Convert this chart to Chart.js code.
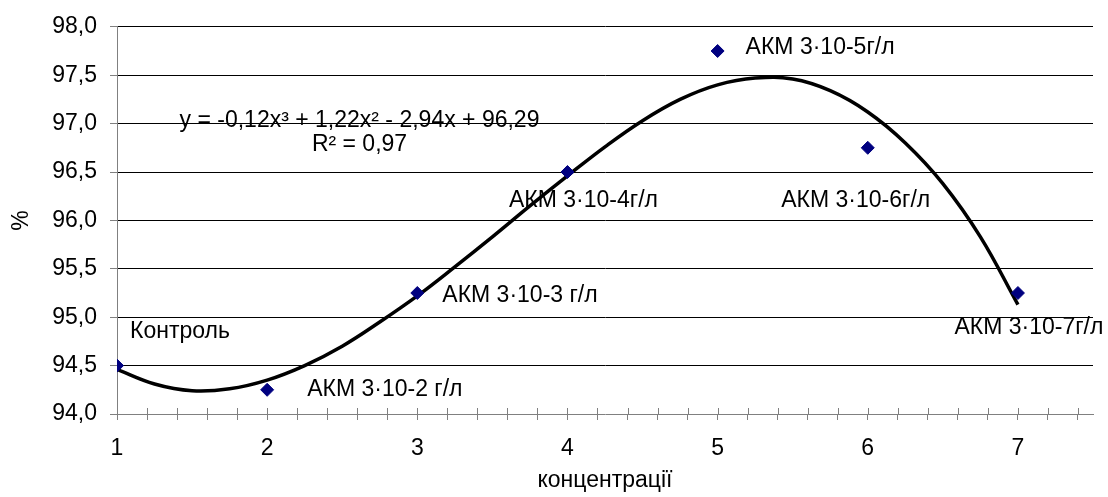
<!DOCTYPE html>
<html>
<head>
<meta charset="utf-8">
<script src="https://cdn.jsdelivr.net/npm/chart.js@4.4.0/dist/chart.umd.min.js"></script>
<style>
  html, body { margin: 0; padding: 0; background: #fff; }
  #wrap { width: 1108px; height: 497px; }
</style>
</head>
<body>
<div id="wrap"><canvas id="grafico"></canvas></div>
<script>
// дані
const kontsentratsii = [1, 2, 3, 4, 5, 6, 7];
const vidsotky = [94.5, 94.25, 95.25, 96.5, 97.75, 96.75, 95.25];
const pidpysy = ['Контроль', 'АКМ 3·10-2 г/л', 'АКМ 3·10-3 г/л', 'АКМ 3·10-4г/л',
                 'АКМ 3·10-5г/л', 'АКМ 3·10-6г/л', 'АКМ 3·10-7г/л'];

// лінія тренду (поліном 3-го ступеня), точки
const trendX = [1, 1.25, 1.5, 1.75, 2, 2.25, 2.5, 2.75, 3, 3.25, 3.5, 3.75, 4,
                4.25, 4.5, 4.75, 5, 5.25, 5.5, 5.75, 6, 6.25, 6.5, 6.75, 7];
const trendY = [94.46, 94.31, 94.24, 94.26, 94.35, 94.50, 94.70, 94.95, 95.22, 95.52,
                95.83, 96.15, 96.46, 96.76, 97.03, 97.25, 97.40, 97.47, 97.46, 97.34,
                97.12, 96.80, 96.38, 95.83, 95.13];

const xTickLabels = ['1', '2', '3', '4', '5', '6', '7'];
const rivniannia = 'y = -0,12x³ + 1,22x² - 2,94x + 96,29';
const r2Tekst = 'R² = 0,97';

// розташування підписів відносно точок (пікселі)
const pidpysPoz = [
  { dx: 13, dy: -34, align: 'left' },
  { dx: 40, dy: 0, align: 'left' },
  { dx: 25, dy: 3, align: 'left' },
  { dx: 16, dy: 29, align: 'center' },
  { dx: 28, dy: -3, align: 'left' },
  { dx: -12, dy: 53, align: 'center' },
  { dx: 11, dy: 35, align: 'center' }
];

const shryft = "'Liberation Sans', Arial, sans-serif";
const rozmir = 23;

const pidpysyPlugin = {
  id: 'pidpysy',
  afterDatasetsDraw(chart) {
    const ctx = chart.ctx;
    const meta = chart.getDatasetMeta(1);
    ctx.save();
    ctx.font = rozmir + 'px ' + shryft;
    ctx.fillStyle = '#000';
    ctx.textBaseline = 'middle';
    meta.data.forEach((pt, i) => {
      const p = pidpysPoz[i];
      ctx.textAlign = p.align;
      ctx.fillText(pidpysy[i], pt.x + p.dx, pt.y + p.dy);
    });
    // рівняння тренду
    const xs = chart.scales.x, ys = chart.scales.y;
    ctx.textAlign = 'center';
    ctx.fillText(rivniannia, xs.getPixelForValue(2.615), ys.getPixelForValue(97.03));
    ctx.fillText(r2Tekst, xs.getPixelForValue(2.615), ys.getPixelForValue(96.78));
    // поділки осі X, що перетинають вісь
    ctx.strokeStyle = '#808080';
    ctx.lineWidth = 1;
    const b = chart.chartArea.bottom;
    xs.ticks.forEach(t => {
      const px = Math.round(xs.getPixelForValue(t.value)) + 0.5;
      ctx.beginPath();
      ctx.moveTo(px, b - 6);
      ctx.lineTo(px, b);
      ctx.stroke();
    });
    ctx.restore();
  }
};

new Chart(document.getElementById('grafico'), {
  type: 'scatter',
  data: {
    datasets: [
      {
        label: 'тренд',
        type: 'line',
        data: trendX.map((x, i) => ({ x, y: trendY[i] })),
        borderColor: '#000',
        borderWidth: 3.5,
        pointRadius: 0,
        tension: 0.4,
        fill: false,
        order: 2
      },
      {
        label: 'дані',
        data: kontsentratsii.map((x, i) => ({ x, y: vidsotky[i] })),
        backgroundColor: '#000080',
        borderColor: '#000080',
        pointStyle: 'rectRot',
        pointRadius: 6.5,
        pointHoverRadius: 6.5,
        order: 1
      }
    ]
  },
  options: {
    responsive: true,
    maintainAspectRatio: false,
    animation: false,
    layout: { padding: { top: 25, right: 15, left: 0, bottom: 0 } },
    plugins: { legend: { display: false }, tooltip: { enabled: false } },
    scales: {
      x: {
        type: 'linear',
        min: 1,
        max: 7.5,
        afterBuildTicks(scale) {
          const t = [];
          for (let i = 0; i <= 32; i++) t.push({ value: 1 + i * 0.2 });
          scale.ticks = t;
        },
        afterFit(scale) { scale.height = 83; },
        border: { color: '#808080', width: 1 },
        grid: { drawOnChartArea: false, drawTicks: true, tickLength: 6, color: '#808080' },
        ticks: {
          autoSkip: false,
          maxRotation: 0,
          padding: 15,
          color: '#000',
          font: { family: shryft, size: rozmir },
          callback(v) {
            const r = Math.round(v);
            return Math.abs(v - r) < 1e-6 && r <= 7 ? xTickLabels[r - 1] : '';
          }
        },
        title: {
          display: true,
          text: 'концентрації',
          color: '#000',
          font: { family: shryft, size: rozmir },
          padding: { top: 0, bottom: 3 }
        }
      },
      y: {
        min: 94,
        max: 98,
        afterFit(scale) { scale.width = 117; },
        border: { color: '#808080', width: 1 },
        grid: {
          color: ctx => (ctx.tick && ctx.tick.value === 94 ? 'rgba(0,0,0,0)' : '#000'),
          tickColor: '#808080',
          tickLength: 7,
          lineWidth: 1
        },
        ticks: {
          stepSize: 0.5,
          padding: 13,
          color: '#000',
          font: { family: shryft, size: rozmir },
          callback: v => v.toFixed(1).replace('.', ',')
        },
        title: {
          display: true,
          text: '%',
          color: '#000',
          font: { family: shryft, size: rozmir },
          padding: { top: 8, bottom: 0 }
        }
      }
    }
  },
  plugins: [pidpysyPlugin]
});
</script>
</body>
</html>
